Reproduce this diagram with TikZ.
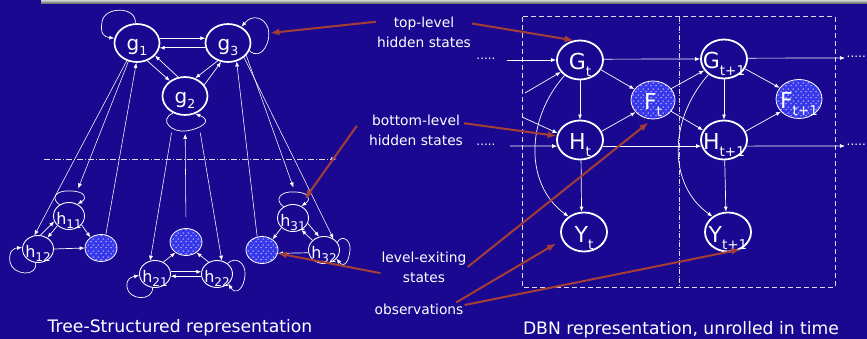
\documentclass[tikz,border=0pt]{standalone}
\usepackage{fontspec}
\setmainfont{DejaVu Sans}
\usetikzlibrary{shapes.geometric,arrows.meta,patterns.meta}
\definecolor{bg}{RGB}{26,8,145}
\definecolor{redc}{RGB}{165,62,52}
\definecolor{shblue}{RGB}{55,55,235}
\tikzdeclarepattern{
  name=wdots,
  type=uncolored,
  bottom left={(0pt,0pt)},
  top right={(5pt,6pt)},
  tile size={(5pt,6pt)},
  code={
    \fill (1.25pt,1.5pt) circle (0.8pt);
    \fill (3.75pt,4.5pt) circle (0.8pt);
  }
}
\newcommand\capsub[2]{\makebox[0pt][c]{\fontsize{22}{22}\selectfont #1\raisebox{-7pt}{\fontsize{13.5}{13.5}\selectfont #2}}}
\newcommand\gsub[2]{\makebox[0pt][c]{\fontsize{20}{20}\selectfont #1\raisebox{-5pt}{\fontsize{12.5}{12.5}\selectfont #2}}}
\newcommand\hsub[2]{\makebox[0pt][c]{\fontsize{16}{16}\selectfont #1\raisebox{-4pt}{\fontsize{12}{12}\selectfont #2}}}
\tikzset{
  warr/.style={draw=white, line width=0.7pt, -{Latex[length=5pt,width=4pt]}},
  bignode/.style={ellipse, draw=white, line width=1.8pt, minimum width=46pt, minimum height=39pt, inner sep=0pt, text=white, text height=20pt, text depth=0pt},
  gnode/.style={ellipse, draw=white, line width=1.7pt, minimum width=45pt, minimum height=38pt, inner sep=0pt, text=white, text height=16pt, text depth=0pt},
  hnode/.style={ellipse, draw=white, line width=0.9pt, minimum width=31pt, minimum height=27pt, inner sep=0pt, text=white, text height=16pt, text depth=0pt},
  exnode/.style={ellipse, draw=white, line width=0.8pt, preaction={fill=shblue}, pattern={wdots}, pattern color=white!85!shblue, inner sep=0pt, minimum width=32pt, minimum height=27pt},
  fnode/.style={ellipse, draw=white, line width=0.8pt, preaction={fill=shblue}, pattern={wdots}, pattern color=white!85!shblue, inner sep=0pt, text=white, text height=20pt, text depth=0pt},
  redarr/.style={draw=redc, line width=2pt, -{Latex[length=9pt,width=7pt]}},
  lbl/.style={font=\fontsize{13.8}{20}\selectfont, text=white, align=center, inner sep=1pt},
  captxt/.style={font=\fontsize{17.2}{20}\selectfont, text=white, inner sep=0pt},
  dotlbl/.style={font=\fontsize{12}{12}\selectfont, text=white, inner sep=0pt},
}
\begin{document}
\begin{tikzpicture}[x=1pt,y=-1pt]
\useasboundingbox (0,0) rectangle (867,339);
\fill[bg] (0,0) rectangle (867,339);
\fill[top color=gray!35, bottom color=gray!80!black] (41,0) rectangle (867,3.5);

% dashed time-slice boxes
\draw[white!85!bg, line width=1pt, dash pattern=on 5pt off 3pt] (522,17) rectangle (835,287);
\draw[white!85!bg, line width=1pt, dash pattern=on 5pt off 1.5pt on 1pt off 1.5pt] (679,17) -- (679,287);

% dash-dot separator
\coordinate (sepA) at (44,159);
\coordinate (sepB) at (337,159);
\draw[white!85!bg, line width=0.8pt, dash pattern=on 6pt off 2pt on 1pt off 2pt, -{Latex[length=6pt,width=4pt]}] (sepA) -- (sepB);

% ---- tree-structured: top level
\node[gnode] (g1) at (137,43) {\gsub{g}{1}};
\node[gnode] (g3) at (228,43) {\gsub{g}{3}};
\node[gnode] (g2) at (185,96) {\gsub{g}{2}};

% ---- bottom level
\node[hnode] (h11) at (69,216) {\hsub{h}{11}};
\node[hnode] (h12) at (38,249) {\hsub{h}{12}};
\node[exnode] (e1) at (101,248) {};
\node[hnode] (h21) at (155,274) {\hsub{h}{21}};
\node[exnode] (e2) at (186,242) {};
\node[hnode] (h22) at (217,274) {\hsub{h}{22}};
\node[hnode] (h31) at (293,218) {\hsub{h}{31}};
\node[exnode] (e3) at (262,250) {};
\node[hnode] (h32) at (324,250) {\hsub{h}{32}};

% top-level edges
\draw[warr] (g1.12) -- (g3.168);
\draw[warr] (g3.192) -- (g1.-12);
\draw[warr] (g1.-60) -- (g2.135);
\draw[warr] (g2.110) -- (g1.-35);
\draw[warr] (g3.-120) -- (g2.60);
\draw[warr] (g2.30) -- (g3.-110);
\draw[warr] (g1.95) .. controls (137,6) and (104,6) .. (102,22) .. controls (100,34) and (104,37) .. (g1.168);
\draw[warr] (g3.-20) .. controls (262,62) and (272,40) .. (268,28) .. controls (264,17) and (252,14) .. (g3.50);
\draw[warr] (g2.-125) .. controls (158,120) and (172,133) .. (186,131) .. controls (200,129) and (214,121) .. (g2.-60);

% bottom-level edges
\draw[warr] (h12.80) -- (h11.200);
\draw[warr] (h11.220) -- (h12.50);
\draw[warr] (h11.-35) -- (e1.135);
\draw[warr] (h12.east) -- (e1.west);
\draw[warr] (h11.130) .. controls (50,198) and (56,190) .. (70,191) .. controls (85,191) and (88,198) .. (h11.55);
\draw[warr] (h12.-100) .. controls (38,278) and (12,275) .. (10,262) .. controls (8,250) and (15,248) .. (h12.175);
\draw[warr] (h21.55) -- (e2.-135);
\draw[warr] (h22.125) -- (e2.-45);
\draw[warr] (h21.8) -- (h22.172);
\draw[warr] (h22.188) -- (h21.-8);
\draw[warr] (h21.-100) .. controls (153,302) and (128,300) .. (127,287) .. controls (126,278) and (132,277) .. (h21.185);
\draw[warr] (h22.45) .. controls (235,256) and (246,262) .. (245,275) .. controls (244,290) and (235,295) .. (h22.-40);
\draw[warr] (h31.-140) -- (e3.45);
\draw[warr] (h31.-20) -- (h32.110);
\draw[warr] (h32.140) -- (h31.-55);
\draw[warr] (h32.190) -- (e3.-12);
\draw[warr] (h31.130) .. controls (274,200) and (280,191) .. (294,192) .. controls (309,192) and (312,199) .. (h31.55);
\draw[warr] (h32.30) .. controls (342,234) and (351,240) .. (350,250) .. controls (349,262) and (344,268) .. (h32.-35);

% inter-level edges
\draw[warr, line width=0.55pt] (g1.-120) -- (h12.105);
\draw[warr, line width=0.55pt, shorten >=15pt] (g1.-115) -- (h11.75);
\draw[warr, line width=0.55pt] (e1.70) -- (g1.-92);
\draw[warr, line width=0.55pt, shorten <=19pt] (g2.-120) -- (h21.110);
\draw[warr, line width=0.55pt, shorten <=11pt, shorten >=18pt] (e2.90) -- (g2.-90);
\draw[warr, line width=0.55pt, shorten <=20pt] (g2.-55) -- (h22.70);
\draw[warr, line width=0.55pt, shorten >=19pt] (g3.-34) -- (h31.62);
\draw[warr, line width=0.55pt] (g3.-42) -- (h32.50);
\draw[warr, line width=0.55pt] (e3.110) -- (g3.-65);

% ---- DBN
\node[bignode] (Gt) at (580,60) {\capsub{G}{t}};
\node[bignode] (Ht) at (580,140) {\capsub{H}{t}};
\node[fnode, minimum width=44pt, minimum height=38pt] (Ft) at (653,100) {\capsub{F}{t}};
\node[bignode] (Yt) at (584,232) {\capsub{Y}{t}};
\node[bignode] (Gn) at (724,59) {\capsub{G}{t+1}};
\node[bignode] (Hn) at (724,140) {\capsub{H}{t+1}};
\node[fnode, minimum width=46pt, minimum height=39pt] (Fn) at (799,99) {\capsub{F}{t+1}};
\node[bignode] (Yn) at (728,232) {\capsub{Y}{t+1}};

\node[dotlbl] (dL1) at (486,59) {.....};
\node[dotlbl] (dL2) at (486,145) {.....};
\node[dotlbl, anchor=east] (dR1) at (866,57) {.....};
\node[dotlbl, anchor=east] (dR2) at (866,145) {.....};

\coordinate (inG) at (507,60);
\coordinate (inGd) at (525,93);
\coordinate (inHd) at (522,117);
\coordinate (inH) at (510,146);
\coordinate (outG) at (845,58);
\coordinate (outH) at (845,146);

\draw[warr] (inG) -- (Gt.180);
\draw[warr] (inGd) -- (Gt.212);
\draw[warr] (inHd) -- (Ht.163);
\draw[warr] (inH) -- (Ht.195);
\draw[warr] (Gt.2) -- (Gn.180);
\draw[warr] (Ht.-15) -- (Hn.195);
\draw[warr] (Gn.2) -- (outG);
\draw[warr] (Hn.-15) -- (outH);
\draw[warr] (Gt.-90) -- (Ht.90);
\draw[warr] (Gn.-90) -- (Hn.90);
\draw[warr] (Ht.-87) -- (Yt.97);
\draw[warr] (Hn.-88) -- (Yn.96);
\draw[warr] (Gt.-25) -- (Ft.150);
\draw[warr] (Ht.22) -- (Ft.-145);
\draw[warr] (Ft.32) -- (Gn.-150);
\draw[warr] (Ft.-32) -- (Hn.155);
\draw[warr] (Gn.-25) -- (Fn.150);
\draw[warr] (Hn.22) -- (Fn.-145);
\draw[warr] (Gt.-135) .. controls (525,120) and (525,185) .. (Yt.135);
\draw[warr] (Gn.-135) .. controls (668,120) and (668,185) .. (Yn.135);

% ---- labels
\node[lbl] (lbltop) at (424,32) {top-level\\hidden states};
\node[lbl] (lblbot) at (416,130) {bottom-level\\hidden states};
\node[lbl] (lblexit) at (424,267) {level-exiting\\states};
\node[lbl] (lblobs) at (419,309) {observations};

\draw[redarr, shorten >=21pt] (lbltop.168) -- (g3.20);
\draw[redarr] (lbltop.10) -- (Gt.108);
\draw[redarr, shorten >=8pt] ([xshift=-11pt]lblbot.175) -- (h31.60);
\draw[redarr] (lblbot.8) -- (Ht.170);
\draw[redarr] (lblexit.188) -- (e3.-12);
\draw[redarr, shorten >=5pt] (lblexit.east) -- (Ft.-92);
\draw[redarr, shorten >=7pt] (lblobs.10) -- (Yt.-160);
\draw[redarr] (lblobs.5) -- (Yn.-55);

% captions
\node[captxt] (capL) at (180,328) {Tree-Structured representation};
\node[captxt] (capR) at (681,330) {DBN representation, unrolled in time};
\end{tikzpicture}
\end{document}
